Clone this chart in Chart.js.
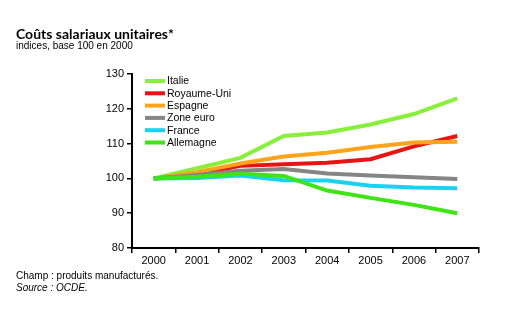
<!DOCTYPE html>
<html><head><meta charset="utf-8">
<script src="https://cdn.jsdelivr.net/npm/chart.js@4/dist/chart.umd.min.js"></script>
<style>
html,body{margin:0;padding:0;background:#fff;}
body{width:506px;height:322px;position:relative;overflow:hidden;font-family:"Liberation Sans",Arial,sans-serif;}
#wrap{position:absolute;left:0;top:0;width:506px;height:322px;}
.t{position:absolute;white-space:nowrap;color:#000;}
#title{left:16px;top:25px;font-size:14px;font-weight:bold;font-family:"Lato",sans-serif;}
#sub{left:16px;top:40px;font-size:10px;font-family:"Liberation Sans Narrow","Liberation Sans",sans-serif;}
#f1{left:16px;top:270px;font-size:10px;font-family:"Liberation Sans Narrow","Liberation Sans",sans-serif;}
#f2{left:16px;top:282px;font-size:10px;font-family:"Liberation Sans Narrow","Liberation Sans",sans-serif;font-style:italic;}
</style></head>
<body>
<div id="wrap"><canvas id="c" width="506" height="322"></canvas></div>
<div class="t" id="title">Coûts salariaux unitaires*</div>
<div class="t" id="sub">indices, base 100 en 2000</div>
<div class="t" id="f1">Champ : produits manufacturés.</div>
<div class="t" id="f2">Source : OCDE.</div>
<script>
const years = ["2000","2001","2002","2003","2004","2005","2006","2007"];
const italie = [100, 102.9, 105.9, 112.2, 113.2, 115.5, 118.5, 123];
const royaumeUni = [100, 101.2, 103.6, 104.1, 104.5, 105.5, 109.2, 112.2];
const espagne = [100, 101.8, 104.3, 106.3, 107.4, 109.0, 110.3, 110.5];
const zoneEuro = [100, 101.0, 102.2, 102.7, 101.4, 100.8, 100.3, 99.8];
const france = [100, 100.1, 100.8, 99.5, 99.4, 97.9, 97.4, 97.2];
const allemagne = [100, 100.5, 101.3, 100.7, 96.5, 94.4, 92.4, 90.0];
const yTicks = [80, 90, 100, 110, 120, 130];

const series = [
  {label:"Italie", data:italie, color:"#88f03a"},
  {label:"Royaume-Uni", data:royaumeUni, color:"#e81414"},
  {label:"Espagne", data:espagne, color:"#ffa31a"},
  {label:"Zone euro", data:zoneEuro, color:"#858585"},
  {label:"France", data:france, color:"#1ad2f0"},
  {label:"Allemagne", data:allemagne, color:"#3ee414"}
];

const legendPlugin = {
  id:'inlegend',
  afterDraw(chart){
    const ctx = chart.ctx;
    ctx.save();
    chart.data.datasets.forEach((ds,i)=>{
      const y = 81 + i*12.3;
      ctx.strokeStyle = ds.borderColor;
      ctx.lineWidth = 4;
      ctx.beginPath(); ctx.moveTo(145,y); ctx.lineTo(165,y); ctx.stroke();
      ctx.fillStyle = '#000';
      ctx.font = '10.5px "Liberation Sans", Arial, sans-serif';
      ctx.textBaseline = 'middle';
      ctx.fillText(ds.label, 167, y+0.5);
    });
    ctx.restore();
  }
};

new Chart(document.getElementById('c'), {
  type:'line',
  data:{
    labels: years,
    datasets: series.map((s,i)=>({
      label:s.label, data:s.data, borderColor:s.color, backgroundColor:s.color,
      borderWidth:4, pointRadius:0, tension:0, fill:false, borderCapStyle:'butt', order: 6-i
    }))
  },
  options:{
    responsive:false, animation:false,
    layout:{padding:{left:0, top:74, right:27, bottom:0}},
    plugins:{legend:{display:false}, tooltip:{enabled:false}, title:{display:false}},
    scales:{
      x:{
        offset:true,
        grid:{display:true, drawOnChartArea:false, offset:true, color:'#000', lineWidth:1.5, tickLength:5},
        border:{display:true, color:'#000', width:2},
        ticks:{color:'#000', font:{family:'"Liberation Sans", Arial, sans-serif', size:11}, padding:1, maxRotation:0, autoSkip:false},
        afterFit(s){ s.height = 74; }
      },
      y:{
        min:80, max:130,
        afterBuildTicks(s){ s.ticks = yTicks.map(v=>({value:v})); },
        grid:{display:true, drawOnChartArea:false, color:'#000', lineWidth:1.5, tickLength:5},
        border:{display:true, color:'#000', width:2},
        ticks:{color:'#000', font:{family:'"Liberation Sans", Arial, sans-serif', size:11}, padding:3},
        afterFit(s){ s.width = 132; }
      }
    }
  },
  plugins:[legendPlugin]
});
</script>
</body></html>
